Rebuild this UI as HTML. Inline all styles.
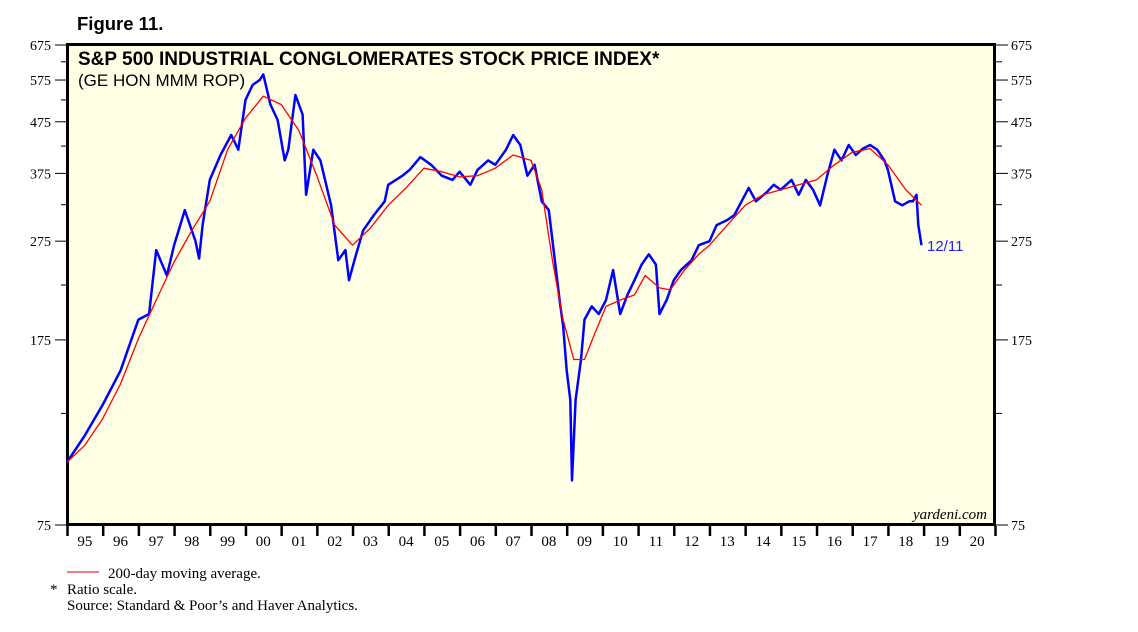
<!DOCTYPE html>
<html><head><meta charset="utf-8"><style>
body{margin:0;background:#fff;width:1138px;height:627px;overflow:hidden}
svg text{font-family:"Liberation Serif",serif}
</style></head><body>
<svg id="chart" width="1138" height="627" xmlns="http://www.w3.org/2000/svg">
<text x="77" y="30" font-weight="bold" font-size="18.5" style="font-family:'Liberation Sans',sans-serif">Figure 11.</text>
<rect x="67.5" y="44.5" width="927" height="480" fill="#ffffe6" stroke="#000" stroke-width="3"/>
<text x="78" y="65" font-weight="bold" font-size="19" style="font-family:'Liberation Sans',sans-serif">S&amp;P 500 INDUSTRIAL CONGLOMERATES STOCK PRICE INDEX*</text>
<text x="78" y="86" font-size="17" style="font-family:'Liberation Sans',sans-serif">(GE HON MMM ROP)</text>
<g id="axes"></g>
<g id="series"></g>
<text x="927" y="251" font-size="15" fill="#2020ff" style="font-family:'Liberation Sans',sans-serif">12/11</text>
<text x="987" y="519" font-size="15" font-style="italic" text-anchor="end">yardeni.com</text>
<line x1="67" y1="572" x2="99" y2="572" stroke="#e00000" stroke-width="1"/>
<text x="108" y="578" font-size="15">200-day moving average.</text>
<text x="50" y="594" font-size="15">*</text>
<text x="67" y="594" font-size="15">Ratio scale.</text>
<text x="67" y="610" font-size="15">Source: Standard &amp; Poor’s and Haver Analytics.</text>
</svg>
<script>
const majorTicks=[675,575,475,375,275,175,75];
const minorTicks=[625,525,425,325,225,125];
const yearLabels=["95","96","97","98","99","00","01","02","03","04","05","06","07","08","09","10","11","12","13","14","15","16","17","18","19","20"];
const priceDates=[1995.0,1995.5,1996.0,1996.5,1997.0,1997.3,1997.5,1997.8,1998.0,1998.3,1998.6,1998.7,1998.8,1999.0,1999.3,1999.6,1999.8,2000.0,2000.2,2000.4,2000.5,2000.7,2000.9,2001.1,2001.2,2001.4,2001.6,2001.7,2001.9,2002.1,2002.4,2002.6,2002.8,2002.9,2003.1,2003.3,2003.6,2003.9,2004.0,2004.4,2004.6,2004.9,2005.2,2005.5,2005.8,2006.0,2006.3,2006.5,2006.8,2007.0,2007.3,2007.5,2007.7,2007.9,2008.1,2008.3,2008.5,2008.7,2008.8,2008.9,2009.0,2009.1,2009.15,2009.25,2009.4,2009.5,2009.7,2009.9,2010.1,2010.3,2010.5,2010.7,2010.9,2011.1,2011.3,2011.5,2011.6,2011.8,2012.0,2012.2,2012.5,2012.7,2013.0,2013.2,2013.5,2013.7,2013.9,2014.1,2014.3,2014.6,2014.8,2015.0,2015.3,2015.5,2015.7,2015.9,2016.1,2016.3,2016.5,2016.7,2016.9,2017.1,2017.3,2017.5,2017.7,2017.9,2018.0,2018.2,2018.4,2018.6,2018.7,2018.8,2018.85,2018.94];
const priceValues=[100,113,130,152,192,197,264,235,270,317,275,254,296,364,408,447,418,525,562,575,590,514,479,398,418,537,491,340,418,398,324,252,264,230,259,289,310,330,356,371,381,404,390,371,364,378,356,381,398,390,418,447,427,371,390,330,317,241,210,187,152,133,92,133,160,192,204,197,210,241,197,215,230,247,259,247,197,210,230,241,252,270,275,296,303,310,330,351,330,344,356,348,364,340,364,348,324,371,418,398,427,408,420,427,418,398,381,330,324,330,330,340,296,270];
const maDates=[1995.0,1995.5,1996.0,1996.5,1997.0,1997.5,1998.0,1998.5,1999.0,1999.5,2000.0,2000.5,2001.0,2001.5,2002.0,2002.5,2003.0,2003.5,2004.0,2004.5,2005.0,2005.5,2006.0,2006.5,2007.0,2007.5,2008.0,2008.3,2008.6,2008.9,2009.2,2009.5,2009.8,2010.1,2010.5,2010.9,2011.2,2011.6,2011.9,2012.3,2012.7,2013.0,2013.5,2014.0,2014.5,2015.0,2015.5,2016.0,2016.5,2017.0,2017.5,2018.0,2018.5,2018.94];
const maValues=[100,108,122,143,176,210,250,289,330,418,483,534,514,456,371,296,270,292,324,351,384,378,369,371,384,408,398,348,252,192,160,160,181,204,210,215,235,222,220,241,259,270,296,324,340,348,356,364,390,413,420,390,348,324];

const NS="http://www.w3.org/2000/svg";
const X0=67,X1=995,T=45,B=525,YMAX=675,YMIN=75;
const xs=d=>X0+(d-1995)/26*(X1-X0);
const ys=v=>T+(Math.log(YMAX)-Math.log(v))/(Math.log(YMAX)-Math.log(YMIN))*(B-T);
const axes=document.getElementById('axes'),ser=document.getElementById('series');
function mk(tag,attrs,parent){const e=document.createElementNS(NS,tag);for(const k in attrs)e.setAttribute(k,attrs[k]);parent.appendChild(e);return e;}
majorTicks.forEach(v=>{
  const y=ys(v);
  let l=mk('line',{x1:55,x2:66,y1:y,y2:y,stroke:'#000'},axes);
  
  
  l=mk('line',{x1:996,x2:1008,y1:y,y2:y,stroke:'#000'},axes);
  
  
  let t=mk('text',{x:51,y:y+5,'text-anchor':'end','font-size':14},axes);t.textContent=v;
  
  
  t=mk('text',{x:1011,y:y+5,'font-size':14},axes);t.textContent=v;
  
  
});
minorTicks.forEach(v=>{
  const y=ys(v);
  let l=mk('line',{x1:61,x2:66,y1:y,y2:y,stroke:'#000'},axes);
  
  
  l=mk('line',{x1:996,x2:1002,y1:y,y2:y,stroke:'#000'},axes);
  
  
});
yearLabels.forEach((lab,i)=>{
  const x=xs(1995+i);
  let l=mk('line',{x1:x+0.5,x2:x+0.5,y1:526,y2:536,stroke:'#000','stroke-width':2.5},axes);
  
  
  let t=mk('text',{x:xs(1995.5+i),y:546,'text-anchor':'middle','font-size':15},axes);t.textContent=lab;
  
  
});
let l=mk('line',{x1:xs(2021)+0.5,x2:xs(2021)+0.5,y1:526,y2:536,stroke:'#000','stroke-width':2.5},axes);


let p=mk('polyline',{points:priceDates.map((d,i)=>xs(d).toFixed(1)+','+ys(priceValues[i]).toFixed(1)).join(' '),fill:'none',stroke:'#0000ff','stroke-width':2.5,'stroke-linejoin':'round'},ser);


p=mk('polyline',{points:maDates.map((d,i)=>xs(d).toFixed(1)+','+ys(maValues[i]).toFixed(1)).join(' '),fill:'none',stroke:'#ff0000','stroke-width':1.3,'stroke-linejoin':'round'},ser);


</script>
</body></html>
